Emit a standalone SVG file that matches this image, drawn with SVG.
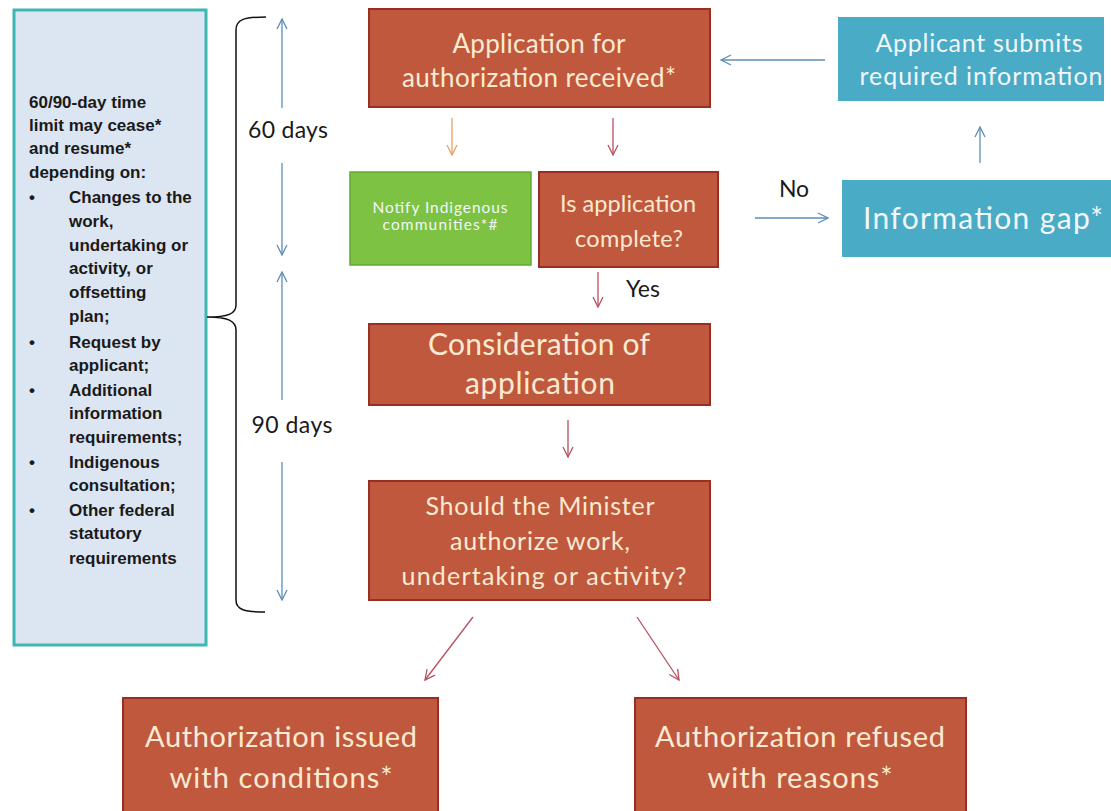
<svg xmlns="http://www.w3.org/2000/svg" width="1111" height="811" viewBox="0 0 1111 811">
<defs>
<style>
.brown{fill:#c0583d;stroke:#9a2e22;stroke-width:2}
.teal{fill:#4aabc6;stroke:none}
.green{fill:#7dc243;stroke:#64a832;stroke-width:1.5}
.side{fill:#dce6f2;stroke:#3db6b4;stroke-width:3}
.bt{font-family:Lato,"Open Sans",sans-serif;fill:#fbead2;text-anchor:middle}
.tt{font-family:Lato,"Open Sans",sans-serif;fill:#f2f7f9;text-anchor:middle}
.lt{font-family:"Liberation Sans",Arial,sans-serif;font-weight:bold;font-size:17px;fill:#1a1a1a}
.dk{font-family:Lato,"Open Sans",sans-serif;fill:#1a1a1a;font-size:23px;text-anchor:middle}
.blue{stroke:#5b8db8;stroke-width:1.3;fill:none}
.red{stroke:#b8505e;stroke-width:1.3;fill:none}
.org{stroke:#e9a066;stroke-width:1.3;fill:none}
.br{stroke:#111;stroke-width:1.5;fill:none}
</style>
<marker id="ab" viewBox="0 0 12 12" refX="11" refY="6" markerWidth="12" markerHeight="12" markerUnits="userSpaceOnUse" orient="auto"><path d="M1,1 L11,6 L1,11" fill="none" stroke="#5b8db8" stroke-width="1.3"/></marker>
<marker id="ar" viewBox="0 0 12 12" refX="11" refY="6" markerWidth="12" markerHeight="12" markerUnits="userSpaceOnUse" orient="auto"><path d="M1,1 L11,6 L1,11" fill="none" stroke="#b8505e" stroke-width="1.3"/></marker>
<marker id="ao" viewBox="0 0 12 12" refX="11" refY="6" markerWidth="12" markerHeight="12" markerUnits="userSpaceOnUse" orient="auto"><path d="M1,1 L11,6 L1,11" fill="none" stroke="#e9a066" stroke-width="1.3"/></marker>
</defs>
<rect width="1111" height="811" fill="#ffffff"/>

<g id="side-note">
<rect class="side" x="14" y="10" width="192" height="635"/>
<text class="lt" x="29" y="108">60/90-day time</text>
<text class="lt" x="29" y="131">limit may cease*</text>
<text class="lt" x="29" y="154">and resume*</text>
<text class="lt" x="29" y="178">depending on:</text>
<text class="lt" x="29" y="203">•</text>
<text class="lt" x="69" y="203">Changes to the</text>
<text class="lt" x="69" y="227">work,</text>
<text class="lt" x="69" y="251">undertaking or</text>
<text class="lt" x="69" y="274">activity, or</text>
<text class="lt" x="69" y="298">offsetting</text>
<text class="lt" x="69" y="322">plan;</text>
<text class="lt" x="29" y="348">•</text>
<text class="lt" x="69" y="348">Request by</text>
<text class="lt" x="69" y="371">applicant;</text>
<text class="lt" x="29" y="396">•</text>
<text class="lt" x="69" y="396">Additional</text>
<text class="lt" x="69" y="419">information</text>
<text class="lt" x="69" y="443">requirements;</text>
<text class="lt" x="29" y="468">•</text>
<text class="lt" x="69" y="468">Indigenous</text>
<text class="lt" x="69" y="491">consultation;</text>
<text class="lt" x="29" y="516">•</text>
<text class="lt" x="69" y="516">Other federal</text>
<text class="lt" x="69" y="539">statutory</text>
<text class="lt" x="69" y="564">requirements</text>
</g>

<g id="bracket">
<path class="br" d="M266,17 C245,17 236,19 236,30 L236,305 C236,314 228,317 207,317 C228,317 236,321 236,330 L236,600 C236,610 245,612 265,612"/>
</g>

<g id="timeline">
<line class="blue" x1="282" y1="108" x2="282" y2="19" marker-end="url(#ab)"/>
<line class="blue" x1="282" y1="163" x2="282" y2="255" marker-end="url(#ab)"/>
<text class="dk" x="288" y="138" textLength="80">60 days</text>
<line class="blue" x1="282" y1="400" x2="282" y2="272" marker-end="url(#ab)"/>
<line class="blue" x1="282" y1="462" x2="282" y2="600" marker-end="url(#ab)"/>
<text class="dk" x="292" y="433" textLength="81">90 days</text>
</g>

<g id="connectors">
<line class="blue" x1="825" y1="60" x2="721" y2="60" marker-end="url(#ab)"/>
<line class="org" x1="452" y1="118" x2="452" y2="155" marker-end="url(#ao)"/>
<line class="red" x1="613" y1="118" x2="613" y2="155" marker-end="url(#ar)"/>
<line class="blue" x1="755" y1="218" x2="828" y2="218" marker-end="url(#ab)"/>
<text class="dk" x="794" y="197">No</text>
<line class="blue" x1="980" y1="163" x2="980" y2="127" marker-end="url(#ab)"/>
<line class="red" x1="598" y1="272" x2="598" y2="307" marker-end="url(#ar)"/>
<text class="dk" x="643" y="297">Yes</text>
<line class="red" x1="568" y1="420" x2="568" y2="457" marker-end="url(#ar)"/>
<line class="red" x1="473" y1="617" x2="425" y2="680" marker-end="url(#ar)"/>
<line class="red" x1="637" y1="617" x2="679" y2="680" marker-end="url(#ar)"/>
</g>

<g id="application-received">
<rect class="brown" x="369" y="9" width="341" height="98"/>
<text class="bt" x="539" y="53" font-size="26" textLength="173">Application for</text>
<text class="bt" x="539" y="87" font-size="26" textLength="274">authorization received*</text>
</g>

<g id="applicant-submits">
<rect class="teal" x="838" y="17" width="266" height="84"/>
<text class="tt" x="979" y="52" font-size="25" textLength="207">Applicant submits</text>
<text class="tt" x="981" y="85" font-size="25" textLength="243">required information</text>
</g>

<g id="notify">
<rect class="green" x="350" y="172" width="181" height="93"/>
<text class="tt" x="440" y="213" font-size="15.5" textLength="135">Notify Indigenous</text>
<text class="tt" x="440" y="230" font-size="15.5" textLength="115">communities*#</text>
</g>

<g id="is-complete">
<rect class="brown" x="539" y="172" width="179" height="95"/>
<text class="bt" x="628" y="212" font-size="23.5" textLength="136">Is application</text>
<text class="bt" x="629" y="247" font-size="23.5" textLength="108">complete?</text>
</g>

<g id="information-gap">
<rect class="teal" x="842" y="180" width="269" height="77"/>
<text class="tt" x="983" y="229" font-size="30" textLength="240">Information gap*</text>
</g>

<g id="consideration">
<rect class="brown" x="369" y="324" width="341" height="81"/>
<text class="bt" x="539" y="355" font-size="30" textLength="222">Consideration of</text>
<text class="bt" x="540" y="394" font-size="30" textLength="150">application</text>
</g>

<g id="minister">
<rect class="brown" x="369" y="481" width="341" height="119"/>
<text class="bt" x="540" y="515" font-size="25" textLength="229">Should the Minister</text>
<text class="bt" x="540" y="550" font-size="25" textLength="180">authorize work,</text>
<text class="bt" x="544" y="585" font-size="25" textLength="285">undertaking or activity?</text>
</g>

<g id="issued">
<rect class="brown" x="123" y="698" width="315" height="120"/>
<text class="bt" x="281" y="747" font-size="29" textLength="272">Authorization issued</text>
<text class="bt" x="281" y="788" font-size="29" textLength="223">with conditions*</text>
</g>

<g id="refused">
<rect class="brown" x="635" y="698" width="331" height="120"/>
<text class="bt" x="800" y="747" font-size="29" textLength="290">Authorization refused</text>
<text class="bt" x="800" y="788" font-size="29" textLength="185">with reasons*</text>
</g>
</svg>
